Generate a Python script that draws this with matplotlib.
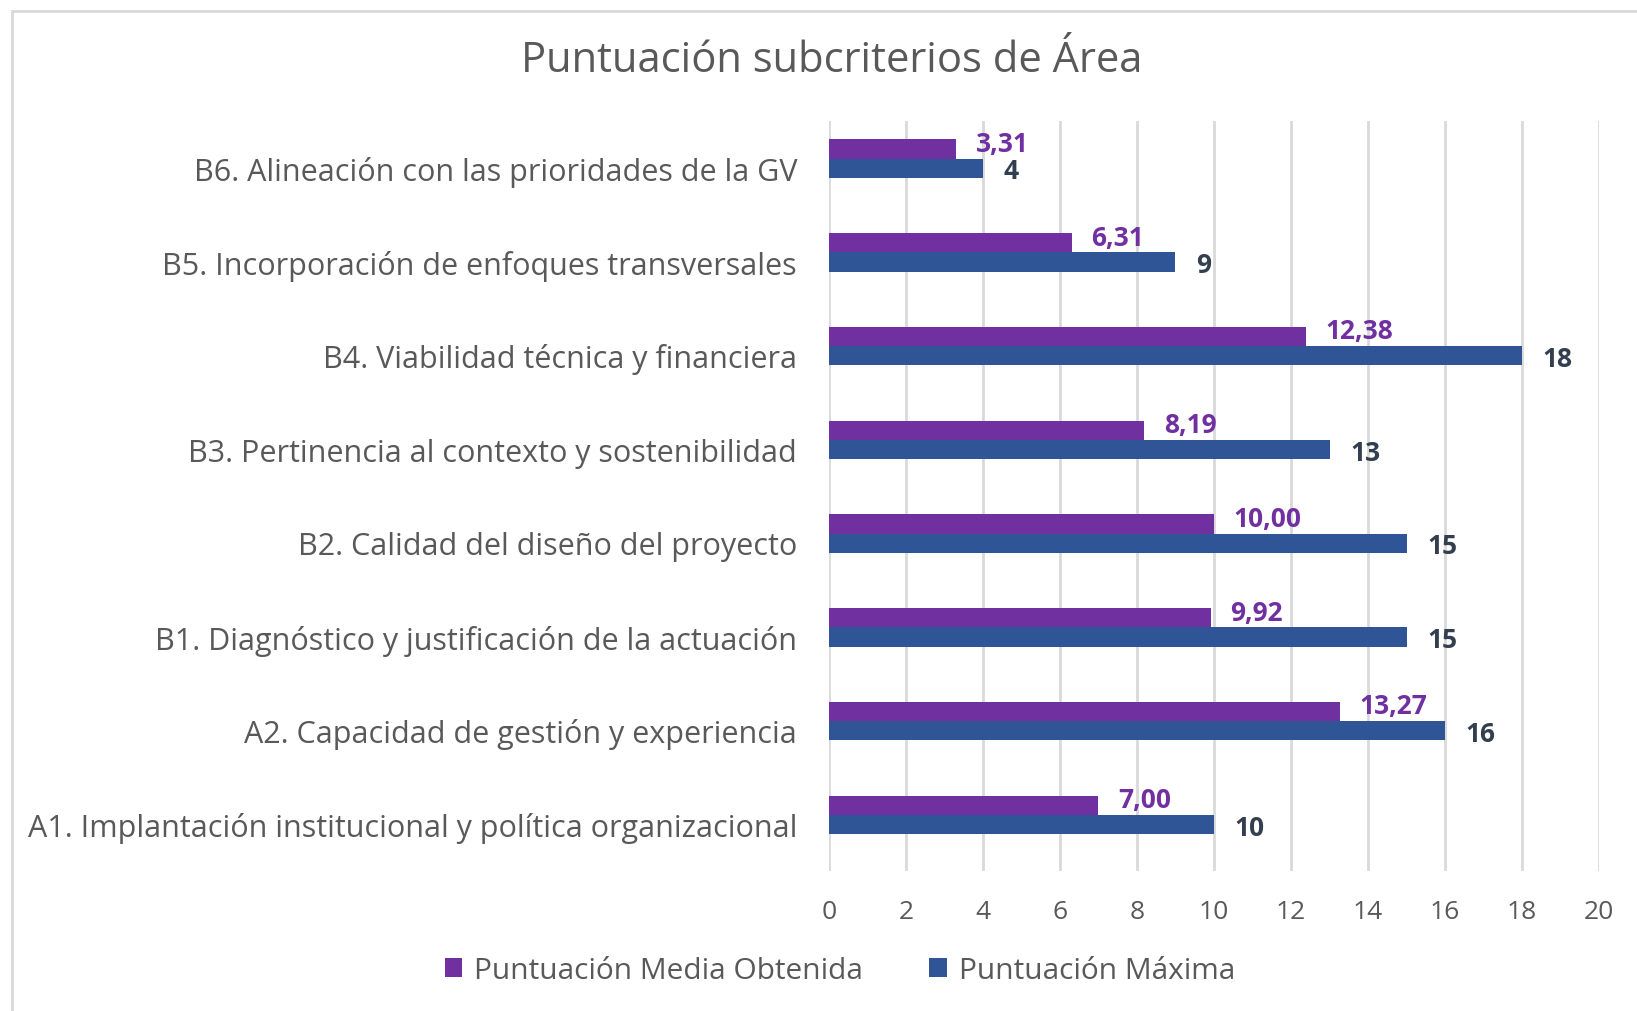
import matplotlib.pyplot as plt
import numpy as np
from matplotlib.patches import Rectangle

categorias = [
    'A1. Implantación institucional y política organizacional',
    'A2. Capacidad de gestión y experiencia',
    'B1. Diagnóstico y justificación de la actuación',
    'B2. Calidad del diseño del proyecto',
    'B3. Pertinencia al contexto y sostenibilidad',
    'B4. Viabilidad técnica y financiera',
    'B5. Incorporación de enfoques transversales',
    'B6. Alineación con las prioridades de la GV',
]
media_obtenida = [7.00, 13.27, 9.92, 10.00, 8.19, 12.38, 6.31, 3.31]
puntuacion_maxima = [10, 16, 15, 15, 13, 18, 9, 4]
xticks = [0, 2, 4, 6, 8, 10, 12, 14, 16, 18, 20]

morado = '#7030A0'
azul = '#2F5597'
gris = '#595959'

plt.rcParams['font.family'] = ['Open Sans', 'DejaVu Sans']

fig = plt.figure(figsize=(16.37, 10.12), dpi=100)
ax = fig.add_axes([0.5064, 0.1383, 0.4704, 0.7411])

y = np.arange(len(categorias))
h = 0.205
desp = 0.1  # excel dibuja las barras algo por encima del centro
bars_m = ax.barh(y + desp + h / 2, media_obtenida, height=h, color=morado,
                 label='Puntuación Media Obtenida', zorder=3)
bars_x = ax.barh(y + desp - h / 2, puntuacion_maxima, height=h, color=azul,
                 label='Puntuación Máxima', zorder=3)

for b, v in zip(bars_m, media_obtenida):
    ax.annotate(f'{v:.2f}'.replace('.', ','), (b.get_width(), b.get_y() + b.get_height() / 2),
                xytext=(14, 4), textcoords='offset points', va='center', ha='left',
                color=morado, fontsize=19, fontweight='bold')
for b, v in zip(bars_x, puntuacion_maxima):
    ax.annotate(f'{v}', (b.get_width(), b.get_y() + b.get_height() / 2),
                xytext=(15, -2), textcoords='offset points', va='center', ha='left',
                color='#333F50', fontsize=19, fontweight='bold')

ax.set_xlim(0, 20)
ax.set_ylim(-0.5, len(categorias) - 0.5)
ax.set_xticks(xticks)
ax.set_yticks(y)
ax.set_yticklabels(categorias)
ax.tick_params(axis='both', length=0, colors=gris)
ax.tick_params(axis='x', pad=20, labelsize=19)
ax.tick_params(axis='y', pad=23, labelsize=22)
ax.grid(axis='x', color='#D9D9D9', linewidth=2, zorder=0)
for s in ax.spines.values():
    s.set_visible(False)

fig.text(0.508, 0.94, 'Puntuación subcriterios de Área', ha='center', va='center',
         fontsize=30, color=gris)

fig.legend(loc='center', bbox_to_anchor=(0.513, 0.04), ncol=2, frameon=False,
           fontsize=21.5, labelcolor=gris, handlelength=0.6, handleheight=0.6,
           columnspacing=2.2, handletextpad=0.4)

fig.add_artist(Rectangle((12 / 1637, -0.1), 1.2, 1 - 12 / 1012 + 0.1, transform=fig.transFigure,
                         fill=False, edgecolor='#D9D9D9', linewidth=2))

fig.savefig('out.png', dpi=100)
